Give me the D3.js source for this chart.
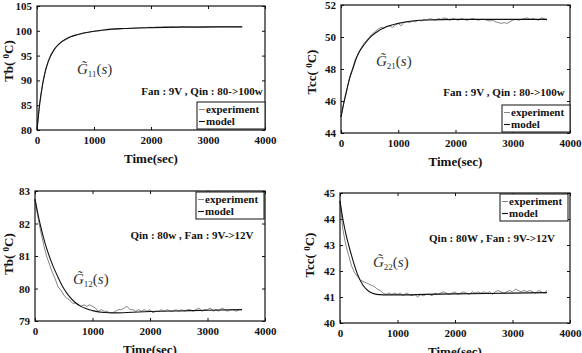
<!DOCTYPE html>
<html lang="en">
<head>
<meta charset="UTF-8">
<title>Step responses</title>
<script src="https://d3js.org/d3.v7.min.js"></script>
<style>
  body { margin: 0; background: #fff; }
  svg text { font-family: "Liberation Serif", "Times New Roman", "DejaVu Serif", serif; }
  .tick text { font-size: 11px; font-weight: bold; fill: #111; font-family: "Liberation Serif", "Times New Roman", serif; }
  .domain { display: none; }
  .tick line { stroke: #111; }
</style>
</head>
<body>
<div id="chart"></div>
<script>
// ---- data ----
// experiment samples every 50 s, 0..3600
var expTime = d3.range(0, 3601, 50);

var tbQinExp = [80.0, 85.6, 89.4, 92.1, 94.0, 95.3, 96.2, 96.9, 97.4, 97.9,
  98.2, 98.5, 98.8, 99.0, 99.2, 99.3, 99.5, 99.6, 99.7, 99.8,
  99.9, 99.95, 100.0, 100.1, 100.15, 100.2, 100.25, 100.3, 100.35, 100.4,
  100.4, 100.45, 100.5, 100.5, 100.55, 100.6, 100.6, 100.65, 100.6, 100.7,
  100.7, 100.65, 100.75, 100.7, 100.75, 100.8, 100.75, 100.8, 100.8, 100.75,
  100.8, 100.85, 100.8, 100.8, 100.75, 100.7, 100.65, 100.7, 100.65, 100.7,
  100.7, 100.75, 100.8, 100.8, 100.85, 100.8, 100.85, 100.8, 100.85, 100.8,
  100.8, 100.85, 100.8];
var tbQinModelT = [0, 25, 50, 100, 150, 200, 300, 400, 500, 600, 700, 800, 1000, 1200, 1500, 2000, 2500, 3000, 3600];
var tbQinModel = [80, 83.0, 85.5, 89.3, 92.0, 93.9, 96.2, 97.5, 98.3, 98.85, 99.2, 99.5, 99.9, 100.2, 100.45, 100.65, 100.75, 100.8, 100.8];

var tccQinExp = [45.0, 45.9, 46.6, 47.5, 48.0, 48.6, 48.9, 49.3, 49.6, 49.8,
  50.0, 50.2, 50.35, 50.5, 50.6, 50.55, 50.65, 50.7, 50.6, 50.75,
  50.85, 50.7, 50.9, 50.95, 50.9, 51.0, 50.95, 51.05, 51.0, 51.1,
  51.05, 51.15, 51.1, 51.05, 51.15, 51.1, 51.2, 51.15, 51.05, 51.15,
  51.1, 51.05, 51.15, 51.1, 51.05, 51.1, 51.15, 51.1, 51.05, 51.1,
  51.1, 51.05, 51.0, 51.05, 50.95, 50.9, 50.85, 50.9, 50.85, 50.95,
  51.05, 51.1, 51.05, 51.1, 51.15, 51.2, 51.1, 51.15, 51.1, 51.05,
  51.2, 51.15, 51.05];
var tccQinModelT = [0, 50, 100, 150, 200, 300, 400, 500, 600, 800, 1000, 1200, 1500, 2000, 2500, 3000, 3600];
var tccQinModel = [45.0, 45.9, 46.7, 47.4, 47.95, 48.95, 49.5, 49.95, 50.25, 50.65, 50.85, 50.98, 51.06, 51.1, 51.1, 51.1, 51.1];

var tbFanExp = [82.75, 82.2, 81.75, 81.35, 81.0, 80.75, 80.5, 80.3, 80.05, 79.95,
  79.8, 79.7, 79.65, 79.55, 79.55, 79.5, 79.45, 79.5, 79.45, 79.5,
  79.45, 79.4, 79.3, 79.35, 79.3, 79.3, 79.25, 79.25, 79.3, 79.35,
  79.35, 79.4, 79.45, 79.35, 79.35, 79.3, 79.35, 79.3, 79.35, 79.3,
  79.35, 79.25, 79.3, 79.3, 79.35, 79.3, 79.35, 79.3, 79.3, 79.35,
  79.3, 79.35, 79.3, 79.35, 79.35, 79.3, 79.35, 79.4, 79.3, 79.35,
  79.35, 79.4, 79.3, 79.35, 79.3, 79.4, 79.35, 79.3, 79.35, 79.35,
  79.3, 79.35, 79.35];
var tbFanModelT = [0, 50, 100, 150, 200, 300, 400, 500, 600, 700, 800, 1000, 1200, 1400, 1700, 2000, 2500, 3000, 3600];
var tbFanModel = [82.75, 82.3, 81.9, 81.55, 81.25, 80.75, 80.35, 80.0, 79.75, 79.57, 79.45, 79.32, 79.26, 79.25, 79.27, 79.29, 79.31, 79.33, 79.35];

var tccFanExp = [44.7, 43.6, 43.0, 42.6, 42.2, 41.95, 41.8, 41.65, 41.6, 41.55,
  41.5, 41.45, 41.4, 41.3, 41.25, 41.15, 41.1, 41.15, 41.1, 41.15,
  41.1, 41.15, 41.05, 41.15, 41.1, 41.05, 41.1, 41.0, 41.1, 41.05,
  41.1, 41.1, 41.05, 41.15, 41.1, 41.15, 41.2, 41.15, 41.1, 41.15,
  41.2, 41.1, 41.15, 41.2, 41.15, 41.1, 41.2, 41.15, 41.2, 41.15,
  41.2, 41.15, 41.2, 41.1, 41.2, 41.25, 41.2, 41.15, 41.2, 41.25,
  41.2, 41.3, 41.25, 41.2, 41.25, 41.2, 41.25, 41.2, 41.15, 41.25,
  41.2, 41.15, 41.25];
var tccFanModelT = [0, 50, 100, 150, 200, 300, 400, 500, 600, 700, 800, 1000, 1500, 2000, 3000, 3600];
var tccFanModel = [44.7, 44.0, 43.45, 43.0, 42.6, 41.9, 41.45, 41.22, 41.12, 41.09, 41.08, 41.08, 41.1, 41.12, 41.15, 41.17];

var xTicks = [0, 1000, 2000, 3000, 4000];
var legendLabels = ['experiment', 'model'];

/** panel layout: plot box corners, label spots */
var panels = [
  { box: [37, 265, 6, 130], yDomain: [80, 105], yTicks: [80, 85, 90, 95, 100, 105],
    exp: tbQinExp, modelT: tbQinModelT, model: tbQinModel,
    yLabel: ['Tb( ', 'C)'], yLabelPos: [13, 61],
    note: 'Fan : 9V , Qin : 80->100w', notePos: [202, 95],
    g: '11', gPos: [77, 74], legend: [197, 102] },
  { box: [341, 570, 5, 133], yDomain: [44, 52], yTicks: [44, 46, 48, 50, 52],
    exp: tccQinExp, modelT: tccQinModelT, model: tccQinModel,
    yLabel: ['Tcc( ', 'C)'], yLabelPos: [316, 72],
    note: 'Fan : 9V , Qin : 80->100w', notePos: [504, 96],
    g: '21', gPos: [376, 66], legend: [502, 105] },
  { box: [35, 265, 191, 321], yDomain: [79, 83], yTicks: [79, 80, 81, 82, 83],
    exp: tbFanExp, modelT: tbFanModelT, model: tbFanModel,
    yLabel: ['Tb( ', 'C)'], yLabelPos: [13, 254],
    note: 'Qin : 80w , Fan : 9V->12V', notePos: [192, 239],
    g: '12', gPos: [73, 284], legend: [196, 192] },
  { box: [340, 570, 193, 323], yDomain: [40, 45], yTicks: [40, 41, 42, 43, 44, 45],
    exp: tccFanExp, modelT: tccFanModelT, model: tccFanModel,
    yLabel: ['Tcc( ', 'C)'], yLabelPos: [314, 255],
    note: 'Qin : 80W , Fan : 9V->12V', notePos: [492, 242],
    g: '22', gPos: [373, 267], legend: [500, 194] }
];

var svg = d3.select('#chart').append('svg')
  .attr('width', 582)
  .attr('height', 353);

svg.append('rect').attr('width', 582).attr('height', 353).attr('fill', '#fff');

panels.forEach(drawPanel);

function drawPanel(p) {
  var x = d3.scaleLinear().domain([0, 4000]).range([p.box[0], p.box[1]]);
  var y = d3.scaleLinear().domain(p.yDomain).range([p.box[3], p.box[2]]);
  var fmt = d3.format('d');
  var g = svg.append('g');

  // axes, ticks pointing inward on all four sides
  g.append('g').attr('transform', 'translate(0,' + p.box[3] + ')')
    .call(d3.axisBottom(x).tickValues(xTicks).tickFormat(fmt).tickSizeInner(-3).tickSizeOuter(0).tickPadding(6));
  g.append('g').attr('transform', 'translate(0,' + p.box[2] + ')')
    .call(d3.axisTop(x).tickValues(xTicks).tickSizeInner(-3).tickSizeOuter(0).tickFormat(''));
  g.append('g').attr('transform', 'translate(' + p.box[0] + ',0)')
    .call(d3.axisLeft(y).tickValues(p.yTicks).tickFormat(fmt).tickSizeInner(-3).tickSizeOuter(0).tickPadding(5));
  g.append('g').attr('transform', 'translate(' + p.box[1] + ',0)')
    .call(d3.axisRight(y).tickValues(p.yTicks).tickSizeInner(-3).tickSizeOuter(0).tickFormat(''));

  var expLine = d3.line()
    .x(function (d, i) { return x(expTime[i]); })
    .y(function (d) { return y(d); });
  var modelLine = d3.line()
    .x(function (d, i) { return x(p.modelT[i]); })
    .y(function (d) { return y(d); })
    .curve(d3.curveMonotoneX);

  g.append('path').datum(p.exp)
    .attr('d', expLine)
    .attr('fill', 'none').attr('stroke', '#666').attr('stroke-width', 0.8);
  g.append('path').datum(p.model)
    .attr('d', modelLine)
    .attr('fill', 'none').attr('stroke', '#111').attr('stroke-width', 1.1);

  // frame
  g.append('rect')
    .attr('x', p.box[0]).attr('y', p.box[2])
    .attr('width', p.box[1] - p.box[0]).attr('height', p.box[3] - p.box[2])
    .attr('fill', 'none').attr('stroke', '#111').attr('stroke-width', 1.2);

  // x title
  g.append('text')
    .attr('x', (p.box[0] + p.box[1]) / 2).attr('y', p.box[3] + 33)
    .attr('text-anchor', 'middle')
    .attr('font-size', 13).attr('font-weight', 'bold').attr('fill', '#111')
    .text('Time(sec)');

  // y title with superscript 0 (x of yLabelPos is the baseline)
  var yl = g.append('text')
    .attr('transform', 'translate(' + p.yLabelPos[0] + ',' + p.yLabelPos[1] + ') rotate(-90)')
    .attr('text-anchor', 'middle')
    .attr('font-size', 13).attr('font-weight', 'bold').attr('fill', '#111');
  yl.append('tspan').text(p.yLabel[0]);
  yl.append('tspan').attr('font-size', 9).attr('dy', -4).text('0');
  yl.append('tspan').attr('dy', 4).text(p.yLabel[1]);

  // operating-point note
  g.append('text')
    .attr('x', p.notePos[0]).attr('y', p.notePos[1])
    .attr('text-anchor', 'middle')
    .attr('font-size', 11).attr('font-weight', 'bold').attr('fill', '#111')
    .text(p.note);

  // transfer-function label  G~ij(s)
  var gl = g.append('text')
    .attr('x', p.gPos[0]).attr('y', p.gPos[1])
    .attr('font-size', 15).attr('fill', '#333');
  gl.append('tspan').attr('font-style', 'italic').text('G\u0303');
  gl.append('tspan').attr('font-size', 9).attr('dy', 3).text(p.g);
  gl.append('tspan').attr('dy', -3).text('(');
  gl.append('tspan').attr('font-style', 'italic').text('s');
  gl.append('tspan').text(')');

  // legend
  var lw = 68, lh = 27;
  var lg = g.append('g').attr('transform', 'translate(' + p.legend[0] + ',' + p.legend[1] + ')');
  lg.append('rect').attr('width', lw).attr('height', lh)
    .attr('fill', '#fff').attr('stroke', '#111').attr('stroke-width', 1);
  legendLabels.forEach(function (lab, i) {
    var cy = 7.5 + i * 12;
    lg.append('line').attr('x1', 2).attr('x2', 8).attr('y1', cy).attr('y2', cy)
      .attr('stroke', i === 0 ? '#666' : '#111').attr('stroke-width', i === 0 ? 0.8 : 1.1);
    lg.append('text').attr('x', 9).attr('y', cy + 3.8)
      .attr('font-size', 11).attr('font-weight', 'bold').attr('fill', '#111')
      .text(lab);
  });
}
</script>
</body>
</html>
